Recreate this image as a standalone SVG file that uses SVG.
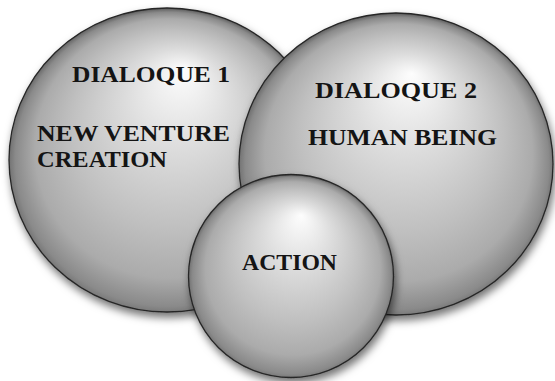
<svg xmlns="http://www.w3.org/2000/svg" width="555" height="381" viewBox="0 0 555 381">
<defs>
<radialGradient id="ball" cx="0.5" cy="0.52" r="0.52" fx="0.55" fy="0.2">
<stop offset="0" stop-color="#fdfdfd"/>
<stop offset="0.32" stop-color="#dcdcdc"/>
<stop offset="0.62" stop-color="#c0c0c0"/>
<stop offset="0.82" stop-color="#ababab"/>
<stop offset="0.93" stop-color="#8a8a8a"/>
<stop offset="1" stop-color="#595959"/>
</radialGradient>
<filter id="shadow" x="-15%" y="-15%" width="130%" height="135%">
<feDropShadow dx="2" dy="5" stdDeviation="4" flood-color="#000" flood-opacity="0.55"/>
</filter>
<style>
.ball{fill:url(#ball);stroke:#262626;stroke-width:1.3;filter:url(#shadow)}
.lbl{font-family:"Liberation Serif","Times New Roman",serif;font-weight:bold;font-size:23px;fill:#141414}
</style>
</defs>
<rect width="555" height="381" fill="#ffffff"/>
<g id="dialogue1">
<ellipse class="ball" cx="167" cy="160" rx="158" ry="152"/>
<text class="lbl" x="72" y="82" textLength="158" lengthAdjust="spacingAndGlyphs">DIALOQUE 1</text>
<text class="lbl" x="37" y="141" textLength="193" lengthAdjust="spacingAndGlyphs">NEW VENTURE</text>
<text class="lbl" x="37" y="167" textLength="130" lengthAdjust="spacingAndGlyphs">CREATION</text>
</g>
<g id="dialogue2">
<ellipse class="ball" cx="396" cy="164" rx="157" ry="151"/>
<text class="lbl" x="315" y="98" textLength="162" lengthAdjust="spacingAndGlyphs">DIALOQUE 2</text>
<text class="lbl" x="308" y="145" textLength="189" lengthAdjust="spacingAndGlyphs">HUMAN BEING</text>
</g>
<g id="action">
<ellipse class="ball" cx="291" cy="276" rx="102.5" ry="101.5"/>
<text class="lbl" x="242" y="270" textLength="95" lengthAdjust="spacingAndGlyphs">ACTION</text>
</g>
<g id="connectors"/>
</svg>
